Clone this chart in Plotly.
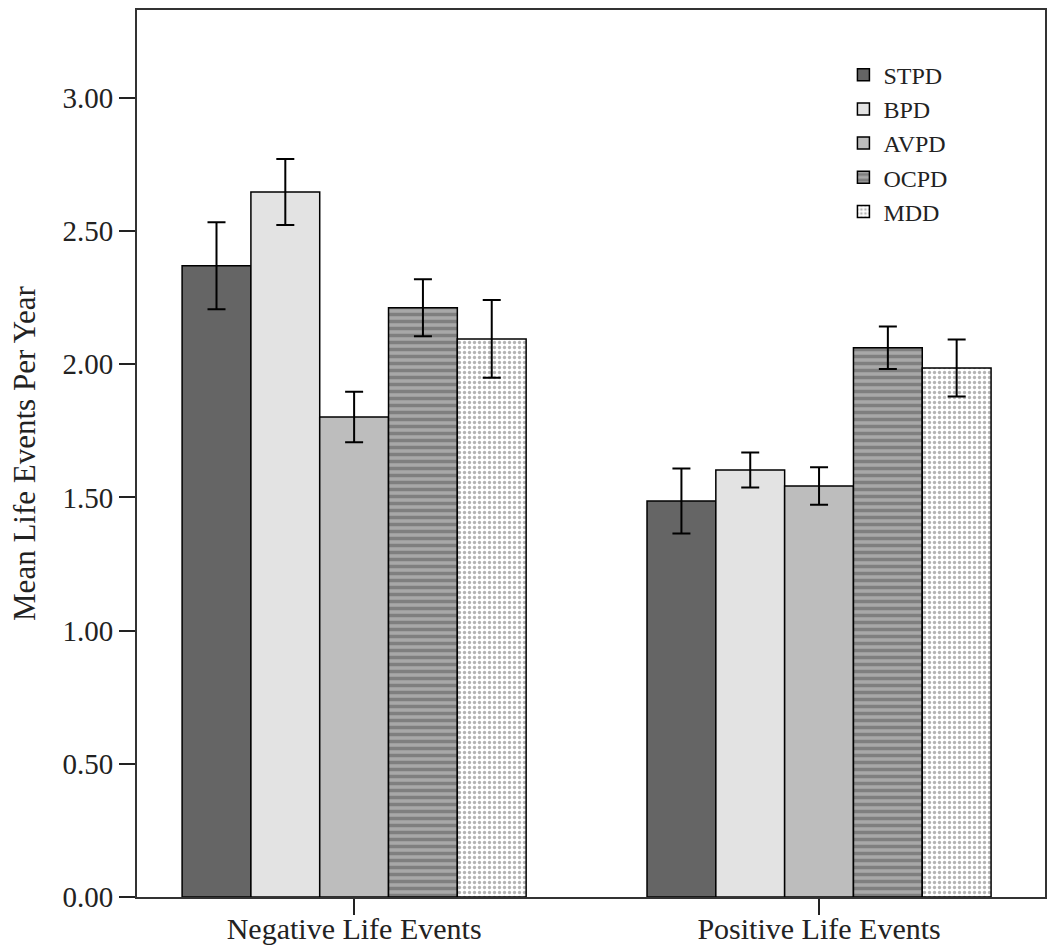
import plotly.graph_objects as go

categories = ["Negative Life Events", "Positive Life Events"]
groups = ["STPD", "BPD", "AVPD", "OCPD", "MDD"]
means = {
    "STPD": [2.37, 1.487],
    "BPD": [2.647, 1.603],
    "AVPD": [1.802, 1.543],
    "OCPD": [2.212, 2.062],
    "MDD": [2.095, 1.986],
}
errors = {
    "STPD": [0.163, 0.122],
    "BPD": [0.124, 0.066],
    "AVPD": [0.095, 0.07],
    "OCPD": [0.107, 0.08],
    "MDD": [0.146, 0.107],
}
y_ticks = [0.0, 0.5, 1.0, 1.5, 2.0, 2.5, 3.0]

styles = {
    "STPD": dict(color="#656565"),
    "BPD": dict(color="#e3e3e3"),
    "AVPD": dict(color="#bdbdbd"),
    "OCPD": dict(color="#a0a0a0", pattern=dict(shape="-", fgcolor="#555555", bgcolor="#a8a8a8", size=7, solidity=0.5)),
    "MDD": dict(color="white", pattern=dict(shape=".", fgcolor="#6a6a6a", bgcolor="white", size=5, solidity=0.35)),
}

x_pos = list(range(len(categories)))
fig = go.Figure()
for g in groups:
    fig.add_trace(go.Bar(
        name=g, x=x_pos, y=means[g],
        marker=dict(**styles[g], line=dict(color="black", width=1.5)),
        error_y=dict(type="data", array=errors[g], color="black", thickness=2, width=9),
    ))

fig.update_layout(
    width=1050, height=947, autosize=False,
    margin=dict(l=137, r=5, t=10, b=50, autoexpand=False),
    barmode="group", bargap=0.26, bargroupgap=0,
    plot_bgcolor="white", paper_bgcolor="white",
    font=dict(family="Liberation Serif", size=28, color="#222"),
    legend=dict(x=0.778, y=0.952, xanchor="left", yanchor="top",
                font=dict(size=24, family="Liberation Serif"), tracegroupgap=0,
                bgcolor="rgba(0,0,0,0)"),
    xaxis=dict(range=[-0.467, 1.486], tickvals=x_pos, ticktext=categories,
               ticks="outside", ticklen=16, tickwidth=2, tickcolor="#222",
               ticklabelstandoff=-12,
               showline=True, linecolor="#333", linewidth=2, mirror=True,
               showgrid=False, zeroline=False, tickfont=dict(size=30), automargin=False),
    yaxis=dict(range=[0, 3.33], tickvals=y_ticks, tickformat=".2f",
               ticks="outside", ticklen=16, tickwidth=2, tickcolor="#222",
               showline=True, linecolor="#333", linewidth=2, mirror=True,
               showgrid=False, zeroline=False, tickfont=dict(size=29), automargin=False,
               title=dict(text="Mean Life Events Per Year", font=dict(size=31), standoff=18)),
)
fig.write_html(
    "out.html",
    config={"displayModeBar": False, "responsive": False},
    post_script="document.body.style.margin='0';document.body.style.overflow='hidden';document.documentElement.style.overflow='hidden';",
)
